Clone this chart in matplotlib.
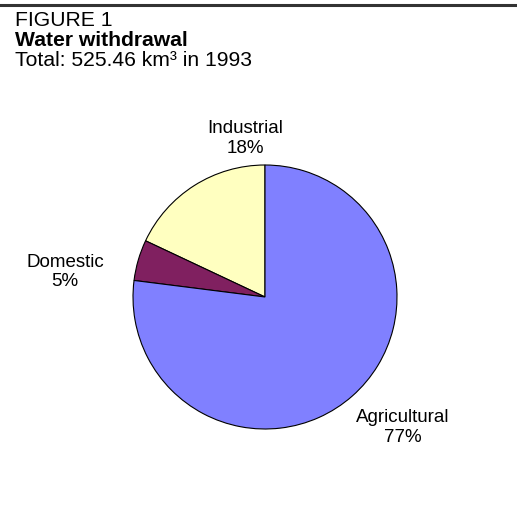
import matplotlib.pyplot as plt
from matplotlib.lines import Line2D

plt.rcParams['font.family'] = ['Liberation Sans', 'DejaVu Sans']

sectors = ['Industrial', 'Domestic', 'Agricultural']
shares = [18, 5, 77]
colors = ['#FFFFC0', '#802060', '#8080FF']
# label centres (pie radius units)
label_pos = [(-0.15, 1.20), (-1.515, 0.19), (1.045, -0.99)]

fig = plt.figure(figsize=(5.17, 5.17), dpi=100)
fig.add_artist(Line2D([0, 1], [0.990, 0.990], color='#333333', lw=2.2))

fig.text(15 / 517, 1 - 21 / 517, 'FIGURE 1', fontsize=15.2, va='center')
fig.text(15 / 517, 1 - 41 / 517, 'Water withdrawal', fontsize=15.2, fontweight='bold', va='center')
fig.text(15 / 517, 1 - 61 / 517, 'Total: 525.46 km³ in 1993', fontsize=15.2, va='center')

ax = fig.add_axes([133 / 517, 88 / 517, 264 / 517, 264 / 517])
ax.pie(shares, colors=colors, startangle=90, counterclock=True,
       wedgeprops=dict(edgecolor='black', linewidth=0.8))
ax.set_xlim(-1, 1)
ax.set_ylim(-1, 1)
ax.set_aspect('equal')

for name, pct, (x, y) in zip(sectors, shares, label_pos):
    ax.text(x, y, f'{name}\n{pct}%', ha='center', va='center', fontsize=13.5,
            linespacing=1.2, clip_on=False)

fig.savefig('out.png', dpi=100)
